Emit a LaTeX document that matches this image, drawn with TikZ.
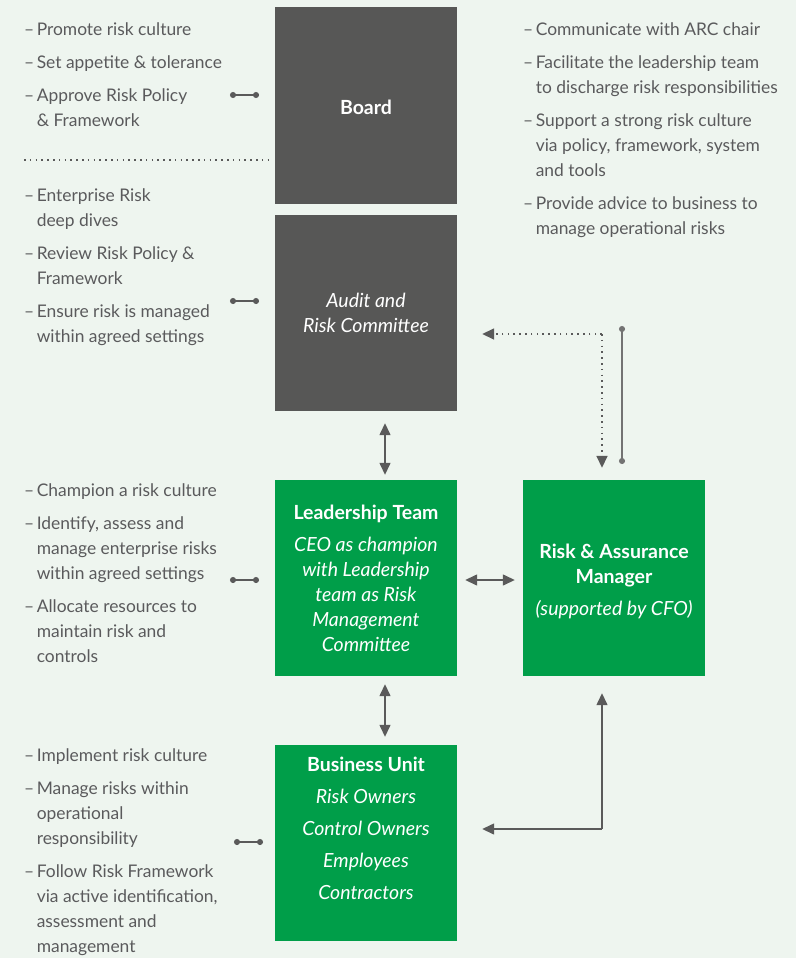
\documentclass[tikz,border=0pt]{standalone}
\usepackage{fontspec}
\setmainfont{Lato}
\usepackage{tikz}
\usetikzlibrary{positioning}
\usetikzlibrary{arrows.meta}
\usetikzlibrary{calc}

\definecolor{bgcol}{HTML}{EEF5EF}
\definecolor{boardgrey}{HTML}{575756}
\definecolor{riskgreen}{HTML}{009E49}
\definecolor{txtgrey}{HTML}{5A5A5C}
\definecolor{linegrey}{HTML}{5A5A5A}

% bullet dash and continuation line of a bullet
\newcommand{\dsh}{--\kern2.5pt}
\newcommand{\ind}{\hphantom{\dsh}}

\begin{document}
\begin{tikzpicture}[x=1pt,y=-1pt,
  box/.style={minimum width=182pt, minimum height=196pt, inner sep=0pt,
    text=white, align=center, font=\fontsize{19.5}{25}\selectfont},
  darkbox/.style={box, fill=boardgrey},
  greenbox/.style={box, fill=riskgreen},
  duties/.style={anchor=north west, inner sep=0pt, align=left, text=txtgrey,
    font=\fontsize{17.4}{25}\selectfont},
  link/.style={draw=linegrey, line width=1.4pt, {Circle[length=6pt]}-{Circle[length=6pt]}},
  arr/.style={draw=linegrey, line width=1.4pt, -{Triangle[length=12pt,width=11pt]}},
  dbl/.style={draw=linegrey, line width=1.4pt,
    {Triangle[length=12pt,width=11pt]}-{Triangle[length=12pt,width=11pt]}},
  dots/.style={draw=linegrey, line width=1.6pt, dash pattern=on 1.6pt off 4.2pt}]

\useasboundingbox[fill=bgcol] (0,0) rectangle (796,958);

% boxes
\node[darkbox] (board) at (366,105.5) {};
\node[text=white, font=\fontsize{19.5}{25}\selectfont] (boardtext)
  at ([yshift=-2pt]board.center) {\textbf{Board}};
\node[darkbox] (arc) at (366,313) {\textit{Audit and}\\\textit{Risk Committee}};
\node[greenbox] (lead) at (366,578) {\textbf{Leadership Team}\\[7pt]
  \textit{CEO as champion}\\\textit{with Leadership}\\\textit{team as Risk}\\
  \textit{Management}\\\textit{Committee}};
\node[greenbox] (ram) at (614,578) {};
\node[text=white, align=center, font=\fontsize{19.5}{25}\selectfont]
  (ramtext) at ([yshift=-3pt]ram.center) {\textbf{Risk \& Assurance}\\\textbf{Manager}\\[7pt]
  \textit{(supported by CFO)}};
\node[greenbox] (bu) at (366,843) {};
\node[text=white, align=center, font=\fontsize{19.5}{32}\selectfont]
  (butext) at ([yshift=15pt]bu.center) {\textbf{Business Unit}\\\textit{Risk Owners}\\
  \textit{Control Owners}\\\textit{Employees}\\\textit{Contractors}};

% duties beside each box
\node[duties] (boardduties) at (24,22) {\dsh Promote risk culture\\[8pt]
  \dsh Set appetite \& tolerance\\[8pt]
  \dsh Approve Risk Policy\\\ind\& Framework};
\node[duties] (arcduties) at (24,188) {\dsh Enterprise Risk\\\ind deep dives\\[8pt]
  \dsh Review Risk Policy \&\\\ind Framework\\[8pt]
  \dsh Ensure risk is managed\\\ind within agreed settings};
\node[duties] (leadduties) at (24,483) {\dsh Champion a risk culture\\[8pt]
  \dsh Identify, assess and\\\ind manage enterprise risks\\\ind within agreed settings\\[8pt]
  \dsh Allocate resources to\\\ind maintain risk and\\\ind controls};
\node[duties] (buduties) at (24,748) {\dsh Implement risk culture\\[8pt]
  \dsh Manage risks within\\\ind operational\\\ind responsibility\\[8pt]
  \dsh Follow Risk Framework\\\ind via active identification,\\\ind assessment and\\\ind management};
\node[duties] (ramduties) at (523,22) {\dsh Communicate with ARC chair\\[8pt]
  \dsh Facilitate the leadership team\\\ind to discharge risk responsibilities\\[8pt]
  \dsh Support a strong risk culture\\\ind via policy, framework, system\\\ind and tools\\[8pt]
  \dsh Provide advice to business to\\\ind manage operational risks};

% divider between board and committee duties
\coordinate (divl) at (24,160);
\coordinate (divr) at (270,160);
\draw[dots] (divl) -- (divr);

% duty links
\coordinate (bl1) at (230,95);  \coordinate (bl2) at (259,95);
\coordinate (al1) at (230,301); \coordinate (al2) at (259,301);
\coordinate (ll1) at (230,580); \coordinate (ll2) at (259,580);
\coordinate (ul1) at (234,842); \coordinate (ul2) at (263,842);
\draw[link] (bl1) -- (bl2);
\draw[link] (al1) -- (al2);
\draw[link] (ll1) -- (ll2);
\draw[link] (ul1) -- (ul2);

% reporting lines
\draw[dbl] ($(arc.south)+(19,12)$) -- ($(lead.north)+(19,-5)$);
\draw[dbl] ($(lead.south)+(19,8)$) -- ($(bu.north)+(19,-8)$);
\draw[dbl] ($(lead.east)+(8,2)$) -- ($(ram.west)+(-8,2)$);

\coordinate (dcorner) at (602,334);
\draw[dots, -{Triangle[length=12pt,width=11pt]}] (dcorner) -- ($(arc.east)+(25,21)$);
\draw[dots, -{Triangle[length=12pt,width=11pt]}] (dcorner) -- ($(ram.north)+(-12,-12)$);
\coordinate (chairtop) at (622,326);
\coordinate (chairbot) at (622,464);
\draw[link, draw=linegrey!85] (chairtop) -- (chairbot);

\coordinate (bcorner) at (602,829);
\draw[arr] (bcorner) -- ($(ram.south)+(-12,17)$);
\draw[arr] (bcorner) -- ($(bu.east)+(25,-14)$);
\end{tikzpicture}
\end{document}
